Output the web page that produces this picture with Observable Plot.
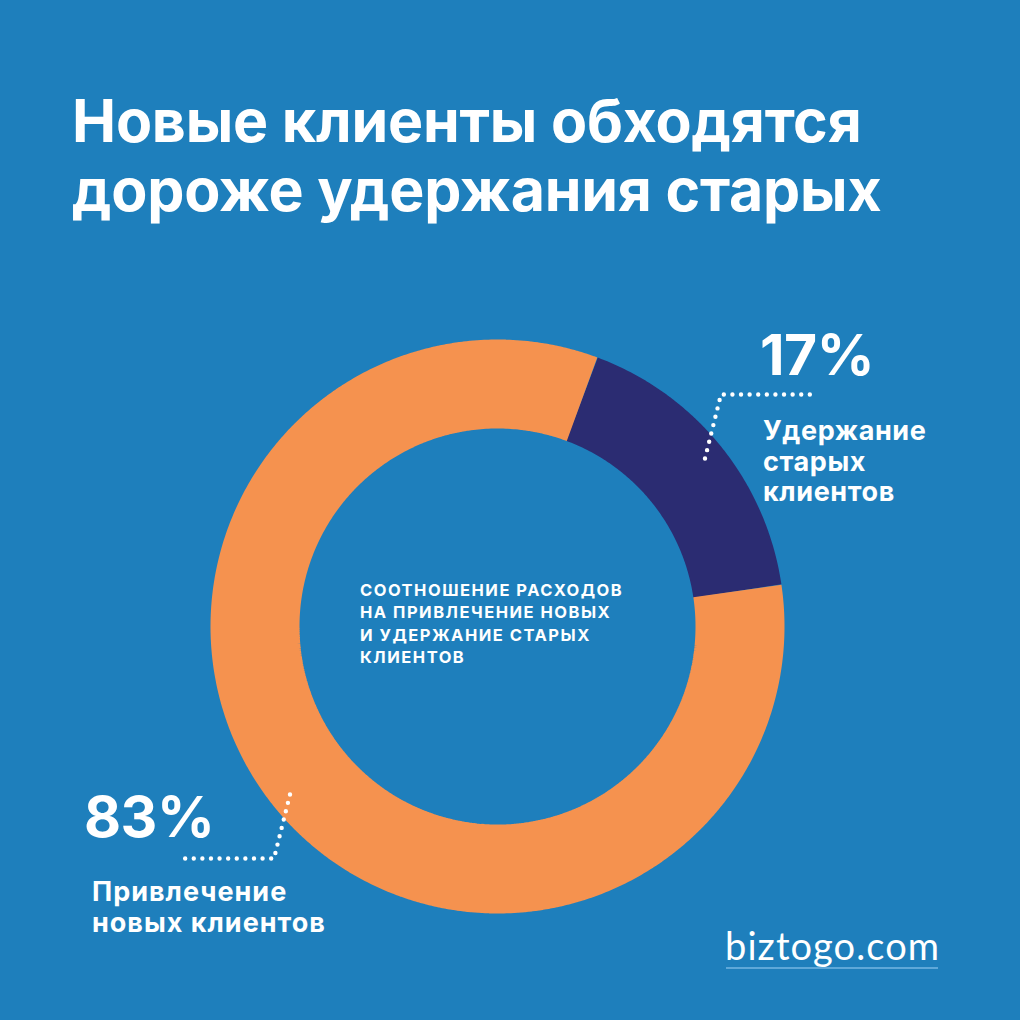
<!DOCTYPE html>
<html><head><meta charset="utf-8">
<script src="https://cdn.jsdelivr.net/npm/d3@7"></script>
<script src="https://cdn.jsdelivr.net/npm/@observablehq/plot@0.6"></script>
<style>
html,body{margin:0;padding:0;background:#1e7fbc;}
#wrap{position:relative;width:1020px;height:1020px;overflow:hidden;background:#1e7fbc;color:#fff;font-family:Inter,Roboto,sans-serif;}
#chart{position:absolute;left:0;top:250px;}
.txt{position:absolute;white-space:nowrap;}
#rule{position:absolute;height:2px;background:#5ea8d9;}
</style>
</head><body>
<div id="wrap"><div id="chart"></div></div>
<script>
// ---------- data ----------
const titleLines = ["Новые клиенты обходятся", "дороже удержания старых"];
const categories = ["Удержание старых клиентов", "Привлечение новых клиентов"];
const shares = [17, 83];
const shareLabels = ["17%", "83%"];
const categoryLines = [["Удержание", "старых", "клиентов"], ["Привлечение", "новых клиентов"]];
const centerCaption = ["СООТНОШЕНИЕ РАСХОДОВ", "НА ПРИВЛЕЧЕНИЕ НОВЫХ", "И УДЕРЖАНИЕ СТАРЫХ", "КЛИЕНТОВ"];
const sourceText = "biztogo.com";

// ---------- layout / style ----------
const W = 1020, chartTop = 250, chartH = 700;
const cx = 497, cy = 626;           // page position of the donut centre
const rOuter = 287, rInner = 198;
const navy = "#2b2c72", orange = "#f5924f";
const midFirstDeg = 51;             // angle (clockwise from 12 o'clock) of first slice's middle

const total = d3.sum(shares);
const startDeg = midFirstDeg - shares[0] / total * 360 / 2;
const ang = v => (startDeg + v / total * 360) * Math.PI / 180;
let acc = 0;
const slices = categories.map((c, i) => { const v0 = acc; acc += shares[i]; return {cat: c, v0, v1: acc}; });
const rMid = (rOuter + rInner) / 2, ringW = rOuter - rInner;
const arcPts = slices.flatMap(s =>
  d3.range(s.v0, s.v1, 0.2).concat([s.v1]).map(v => ({cat: s.cat, x: rMid * Math.sin(ang(v)), y: -rMid * Math.cos(ang(v))})));

// leaders: from the middle of each slice, up/down then sideways
const rAnchor = 267;
const leaderPts = slices.flatMap(s => {
  const a = ang((s.v0 + s.v1) / 2);
  const side = Math.sign(Math.sin(a));
  const A = {x: rAnchor * Math.sin(a), y: -rAnchor * Math.cos(a)};
  const E = {x: A.x + side * 16, y: A.y - side * 64};
  const H = {x: E.x + side * 94, y: E.y};
  return [A, E, H].map(p => ({...p, cat: s.cat}));
});

const chart = Plot.plot({
  width: W, height: chartH, margin: 0,
  x: {domain: [-cx, W - cx], range: [0, W], axis: null},
  y: {domain: [-(cy - chartTop), chartTop + chartH - cy], range: [0, chartH], axis: null},
  color: {domain: categories, range: [navy, orange]},
  style: {background: "transparent", overflow: "visible"},
  marks: [
    Plot.line(arcPts, {x: "x", y: "y", z: "cat", stroke: "cat", strokeWidth: ringW, strokeLinecap: "butt", strokeLinejoin: "miter"}),
    Plot.line(leaderPts, {x: "x", y: "y", z: "cat", stroke: "white", strokeWidth: 4.4, strokeDasharray: "0 8.6", strokeLinecap: "round", strokeLinejoin: "round"})
  ]
});
document.getElementById("chart").appendChild(chart);

// ---------- text placement by baseline (one element per line) ----------
const wrap = document.getElementById("wrap");
function placeLine(text, x, baseline, {size, weight = 700, family = "Inter, Roboto, sans-serif", ls = 0}) {
  const d = document.createElement("div");
  d.className = "txt";
  d.style.cssText = `left:${x}px;top:0px;font-family:${family};font-size:${size}px;font-weight:${weight};line-height:${size}px;letter-spacing:${ls}px;`;
  const m = document.createElement("span");
  m.style.cssText = "display:inline-block;width:0;height:0;vertical-align:baseline;";
  d.appendChild(document.createTextNode(text));
  d.appendChild(m);
  wrap.appendChild(d);
  const b = m.getBoundingClientRect().top - wrap.getBoundingClientRect().top;
  d.style.top = (baseline - b) + "px";
}
function place(lines, {x, baseline, step = 0, ...opts}) {
  lines.forEach((t, i) => placeLine(t, x, baseline + i * step, opts));
}
place(titleLines, {x: 72, baseline: 142, step: 69, size: 59, ls: -0.2});
place(centerCaption, {x: 360, baseline: 596, step: 22.3, size: 16.5, ls: 1.5});
place([shareLabels[0]], {x: 760, baseline: 375, size: 57, ls: -0.5});
place(categoryLines[0], {x: 763, baseline: 440, step: 30.5, size: 27, ls: 0.6});
place([shareLabels[1]], {x: 84, baseline: 837, size: 57, ls: -0.5});
place(categoryLines[1], {x: 92, baseline: 901, step: 30.5, size: 27, ls: 1.0});
place([sourceText], {x: 725, baseline: 960, size: 38, weight: 400, ls: 1.1, family: "Lato, 'Open Sans', sans-serif"});
const rule = document.createElement("div");
rule.id = "rule";
rule.style.cssText += "left:726px;top:967px;width:212px;";
wrap.appendChild(rule);
</script>
</body></html>
